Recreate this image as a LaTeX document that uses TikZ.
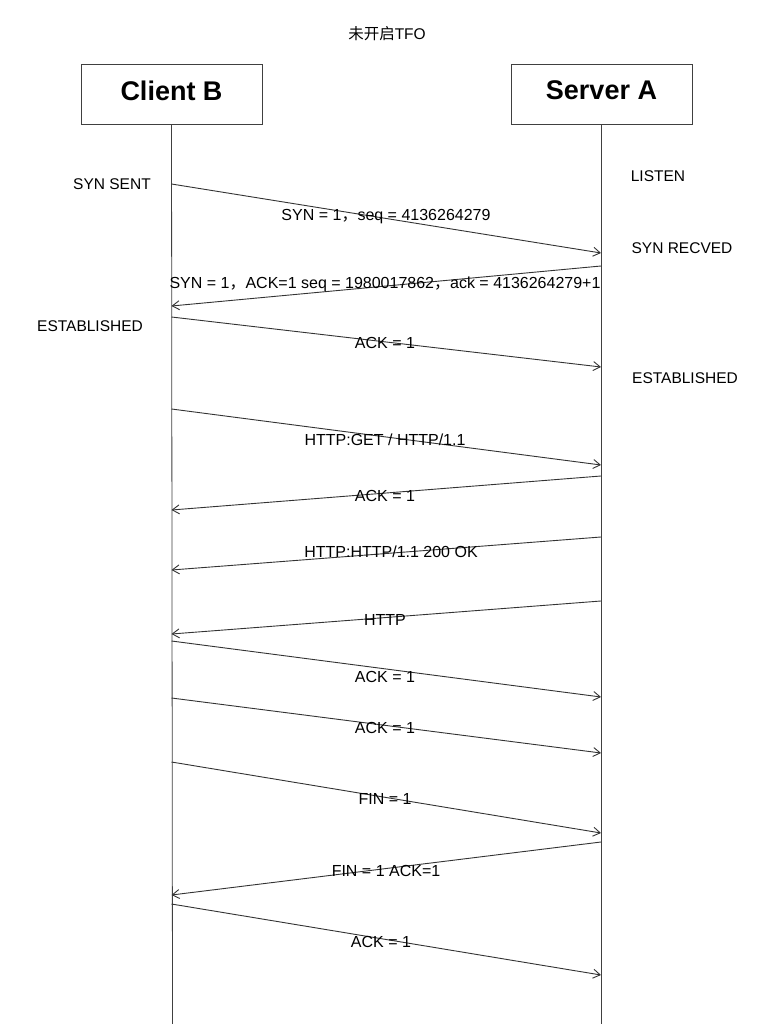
\documentclass[tikz,border=0pt]{standalone}
\usepackage{fontspec}
\setmainfont{Liberation Sans}
\newfontfamily\cjk{Noto Sans CJK SC}
\usetikzlibrary{arrows.meta}
\tikzset{
  actor/.style={draw=black!75, line width=0.8pt, minimum width=181pt, minimum height=60pt, inner sep=0pt, font=\fontsize{27}{30}\selectfont\bfseries},
  life/.style={draw=black!75, line width=0.8pt},
  msg/.style={draw=black!80, line width=0.9pt, -{Straight Barb[length=7pt,width=9pt]}},
  lbl/.style={font=\fontsize{16}{18}\selectfont, inner sep=0pt, yshift=-2pt},
  state/.style={font=\fontsize{15.5}{18}\selectfont, inner sep=0pt}
}
\newcommand{\fwc}{{\cjk ，}}
\begin{document}
\begin{tikzpicture}[x=1pt,y=-1pt]
\useasboundingbox (0,0) rectangle (774,1024);
\fill[white] (0,0) rectangle (774,1024);
\node[lbl, font=\fontsize{15.5}{18}\selectfont, yshift=1pt] (title) at (387,33) {{\cjk 未开启}TFO};
\node[actor] (client) at (171.5,94) {\raisebox{7pt}{Client B}};
\node[actor] (server) at (601.5,94) {\raisebox{7pt}{Server A}};
\coordinate (cend) at (172.5,1024);
\coordinate (send) at (601.5,1024);
\draw[life] (client.south) -- (cend);
\draw[life] (server.south) -- (send);
% lifeline points
\foreach \n/\y in {c1/184,c2/306,c3/317,c4/409,c5/510,c6/570,c7/634,c8/641,c9/698,c10/762,c11/895,c12/904}{
  \coordinate (\n) at (171.5,\y);}
\foreach \n/\y in {s1/253,s2/266,s3/367,s4/465,s5/476,s6/537,s7/601,s8/697,s9/753,s10/833,s11/842,s12/975}{
  \coordinate (\n) at (601,\y);}
\draw[msg] (c1) -- (s1);
\draw[msg] (s2) -- (c2);
\draw[msg] (c3) -- (s3);
\draw[msg] (c4) -- (s4);
\draw[msg] (s5) -- (c5);
\draw[msg] (s6) -- (c6);
\draw[msg] (s7) -- (c7);
\draw[msg] (c8) -- (s8);
\draw[msg] (c9) -- (s9);
\draw[msg] (c10) -- (s10);
\draw[msg] (s11) -- (c11);
\draw[msg] (c12) -- (s12);
% labels
\node[lbl] (l1) at (386,215) {SYN = 1\fwc seq = 4136264279};
\node[lbl] (l2) at (385,282) {SYN = 1\fwc ACK=1 seq = 1980017862\fwc ack = 4136264279+1};
\node[lbl] (l3) at (385,341) {ACK = 1};
\node[lbl] (l4) at (385,438) {HTTP:GET / HTTP/1.1};
\node[lbl] (l5) at (385,494) {ACK = 1};
\node[lbl] (l6) at (391,550) {HTTP:HTTP/1.1 200 OK};
\node[lbl] (l7) at (385,618) {HTTP};
\node[lbl] (l8) at (385,675) {ACK = 1};
\node[lbl] (l9) at (385,726) {ACK = 1};
\node[lbl] (l10) at (385,797) {FIN = 1};
\node[lbl] (l11) at (386,869) {FIN = 1 ACK=1};
\node[lbl] (l12) at (381,940) {ACK = 1};
% states
\node[state] (synsent) at (112,184) {SYN SENT};
\node[state] (listen) at (658,176) {LISTEN};
\node[state] (synrecv) at (682,248) {SYN RECVED};
\node[state] (estc) at (90,326) {ESTABLISHED};
\node[state] (ests) at (685,378) {ESTABLISHED};
\end{tikzpicture}
\end{document}
